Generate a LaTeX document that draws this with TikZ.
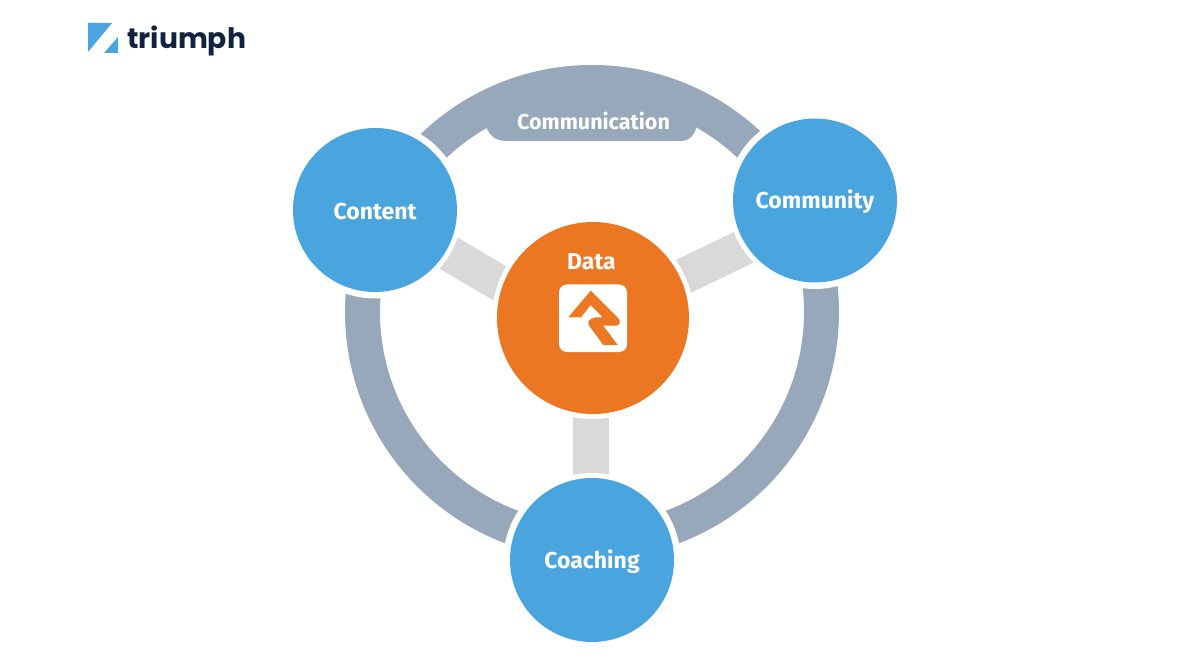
\documentclass[tikz,border=0pt]{standalone}
\usepackage{fontspec}
\setmainfont{Fira Sans}
\newfontfamily\logofont{Poppins}
\definecolor{hubblue}{HTML}{4AA5DF}
\definecolor{hubgray}{HTML}{97A8BA}
\definecolor{spokegray}{HTML}{D9D9D9}
\definecolor{huborange}{HTML}{EC7723}
\definecolor{logonavy}{HTML}{12233F}
\tikzset{
  hub/.style={circle,fill=hubblue,minimum size=164pt,inner sep=0pt},
  hublabel/.style={text=white,font=\fontsize{23}{26}\selectfont\bfseries},
  halo/.style={fill=white},
  spoke/.style={draw=spokegray,line width=36pt},
  ring/.style={draw=hubgray,line width=35pt}
}
\begin{document}
\begin{tikzpicture}[x=1pt,y=-1pt]
\useasboundingbox (0,0) rectangle (1200,663);
\fill[white] (0,0) rectangle (1200,663);
% logo
\fill[hubblue] (88,23) -- (112,23) -- (88,52) -- cycle;
\fill[hubblue] (118,37) -- (118,53) -- (104,53) -- cycle;
\node[anchor=base west,inner sep=0pt,text=logonavy,font=\logofont\fontsize{28.2}{32}\selectfont\bfseries] (brand) at (127,48.5) {triumph};
% positions
\coordinate (ringc) at (592,312);
\coordinate (pContent) at (375,210);
\coordinate (pCommunity) at (815,200.5);
\coordinate (pCoaching) at (592,560);
\coordinate (pData) at (593,318);
% spoke ends
\coordinate (sLa) at (593,338);
\coordinate (sRa) at (593,320);
\coordinate (sRb) at (815,213);
\coordinate (sBa) at (591.3,318);
\coordinate (sBb) at (591.3,560);
% ring
\draw[ring] (ringc) circle (229.5pt);
\fill[hubgray] (487,100) -- (487,129) .. controls (491,136) and (495,141) .. (507,141) -- (680,141) .. controls (690,141) and (693,136) .. (696,129) -- (696,100) -- cycle;
\foreach \p in {pContent,pCommunity,pCoaching} \fill[halo] (\p) circle (88.5pt);
% spokes
\draw[spoke] (sLa) -- (pContent);
\draw[spoke] (sRa) -- (sRb);
\draw[spoke] (sBa) -- (sBb);
\foreach \p in {pContent,pCommunity,pCoaching} \fill[halo] (\p) circle (87pt);
\fill[halo] (pData) circle (101pt);
% hubs
\node[hub] (content) at (pContent) {};
\node[hub] (community) at (pCommunity) {};
\node[hub] (coaching) at (pCoaching) {};
\node[hublabel] (contentlabel) at (375,212) {Content};
\node[hublabel] (communitylabel) at (815,202) {Community};
\node[hublabel] (coachinglabel) at (592,562) {Coaching};
\node[circle,fill=huborange,minimum size=192pt,inner sep=0pt] (data) at (pData) {};
\node[hublabel] (datalabel) at (591.5,262) {Data};
\node[hublabel,font=\fontsize{21.5}{24}\selectfont\bfseries] (comm) at (593.5,121) {Communication};
% product mark
\fill[white,rounded corners=8pt] (559,284.5) rectangle (627,352);
\fill[huborange] (590.7,290.7) -- (568.3,317.3) -- (581,317.3) -- (590.7,305) -- (602.7,317.3) -- (595,317.5) .. controls (589,318.5) and (587,322) .. (589,325.5) -- (603.3,345) -- (617.7,345) -- (603.3,325.7) -- (616.7,325.7) .. controls (620,325) and (621,321) .. (618.3,318.3) -- cycle;
\end{tikzpicture}
\end{document}
